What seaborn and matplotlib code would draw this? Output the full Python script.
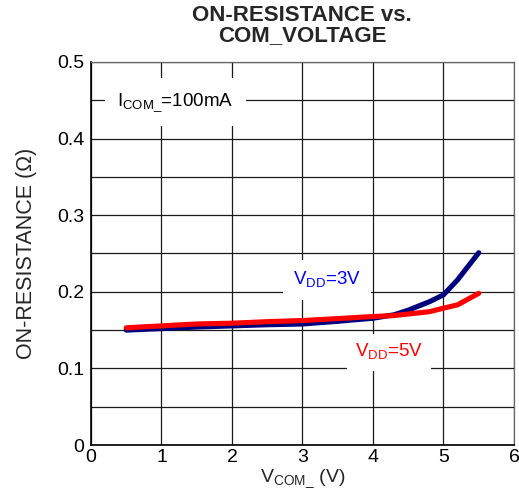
import matplotlib
matplotlib.use("Agg")
import matplotlib.pyplot as plt
import seaborn as sns
import pandas as pd
import numpy as np

# Data
vcom = [0.5, 1.0, 1.5, 2.0, 2.5, 3.0, 3.5, 4.0, 4.3, 4.5, 4.8, 5.0, 5.2, 5.5]
r_vdd3 = [0.150, 0.152, 0.154, 0.1555, 0.157, 0.158, 0.1615, 0.1655, 0.170, 0.176, 0.187, 0.196, 0.2156, 0.251]
r_vdd5 = [0.153, 0.1555, 0.158, 0.159, 0.161, 0.1625, 0.165, 0.1677, 0.169, 0.171, 0.174, 0.1786, 0.183, 0.198]
series_names = ["VDD=3V", "VDD=5V"]
series_colors = ["#00007f", "#ff0000"]
x_ticks = [0, 1, 2, 3, 4, 5, 6]
y_ticks = [0, 0.1, 0.2, 0.3, 0.4, 0.5]
y_ticklabels = ["0", "0.1", "0.2", "0.3", "0.4", "0.5"]

df = pd.concat([
    pd.DataFrame({"V": vcom, "R": r_vdd3, "s": series_names[0]}),
    pd.DataFrame({"V": vcom, "R": r_vdd5, "s": series_names[1]}),
])

sns.set_theme(style="white")
plt.rcParams["font.family"] = ["Liberation Sans", "DejaVu Sans"]
plt.rcParams["mathtext.fontset"] = "custom"
plt.rcParams["mathtext.rm"] = "Liberation Sans"

fig = plt.figure(figsize=(5.19, 4.99), dpi=100)
ax = fig.add_axes([0.1753, 0.1082, 0.8150, 0.7676])

ax.set_xlim(0, 6)
ax.set_ylim(0, 0.5)
ax.set_xticks(x_ticks)
ax.set_yticks(y_ticks)
ax.set_yticklabels(y_ticklabels)
ax.set_yticks(np.arange(0.05, 0.5, 0.1), minor=True)
ax.grid(True, which="both", axis="y", color="#1a1a1a", linewidth=0.9)
ax.grid(True, which="major", axis="x", color="#1a1a1a", linewidth=0.9)
ax.set_axisbelow(True)

sns.lineplot(data=df, x="V", y="R", hue="s", palette=series_colors,
             linewidth=3.7, legend=False, ax=ax, sort=False)
for ln in ax.lines:
    ln.set_solid_capstyle("round")
    ln.set_solid_joinstyle("round")

for side in ["top", "right"]:
    ax.spines[side].set_color("#666666")
    ax.spines[side].set_linewidth(0.9)
for side in ["left", "bottom"]:
    ax.spines[side].set_color("black")
    ax.spines[side].set_linewidth(1.2)

ax.tick_params(axis="x", which="major", labelsize=14, length=0, pad=3, colors="black")
ax.tick_params(axis="y", which="major", labelsize=14, length=4, width=1, direction="out",
               pad=1, colors="black")
ax.tick_params(axis="both", which="minor", length=0)

ax.set_xlabel(r"V$_{\mathregular{COM\_}}$ (V)", fontsize=14, labelpad=1)
ax.set_ylabel("ON-RESISTANCE (Ω)", fontsize=15.5, labelpad=14)

fig.text(0.582, 0.99, "ON-RESISTANCE vs.\nCOM_VOLTAGE", ha="center", va="top",
         fontsize=16, fontweight="bold", linespacing=0.92)

ax.text(0.37, 0.4475, r"I$_{\mathregular{COM\_}}$=100mA", fontsize=13.5, color="black",
        ha="left", va="center", bbox=dict(facecolor="white", edgecolor="none", pad=9))
ax.text(3.35, 0.215, r"V$_{\mathregular{DD}}$=3V", fontsize=13.5, color="#0000ff",
        ha="center", va="center", bbox=dict(facecolor="white", edgecolor="none", pad=7))
ax.text(4.23, 0.121, r"V$_{\mathregular{DD}}$=5V", fontsize=13.5, color="#ff0000",
        ha="center", va="center", bbox=dict(facecolor="white", edgecolor="none", pad=6))

fig.savefig("out.png", dpi=100)
